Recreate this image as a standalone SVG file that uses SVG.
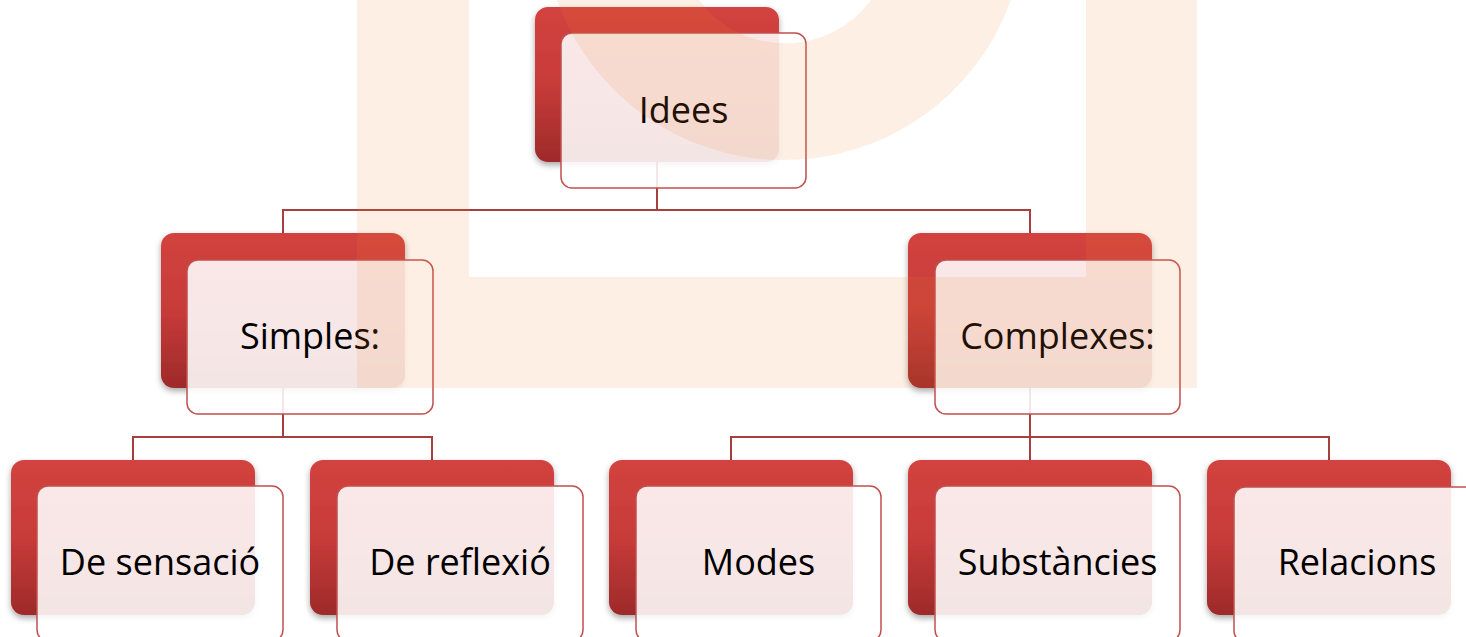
<svg xmlns="http://www.w3.org/2000/svg" width="1466" height="637" viewBox="0 0 1466 637">
<defs>
<linearGradient id="darkGrad" x1="0" y1="0" x2="0" y2="1">
<stop offset="0" stop-color="#D2433F"/>
<stop offset="0.5" stop-color="#C73B39"/>
<stop offset="1" stop-color="#9E2A2A"/>
</linearGradient>
<filter id="shadow" x="-10%" y="-10%" width="120%" height="130%">
<feDropShadow dx="0" dy="3" stdDeviation="3" flood-color="#000" flood-opacity="0.35"/>
</filter>
</defs>
<style>
.dark{fill:url(#darkGrad);filter:url(#shadow)}
.light{fill:#FFFFFF;fill-opacity:0.88;stroke:#C0504D;stroke-width:1.5}
.lbl{font-family:"Open Sans","Noto Sans","Liberation Sans",sans-serif;font-size:36px;fill:#000;text-anchor:middle}
.conn{fill:none;stroke:#A63F3D;stroke-width:2}
.wm{fill:#EE8530;fill-opacity:0.13}
</style>
<rect x="0" y="0" width="1466" height="637" fill="#FFFFFF"/>
<g id="connectors">
<path class="conn" d="M657 162 V210 M283 233 V210 H1030 V233"/>
<path class="conn" d="M283 388 V437 M133 460 V437 H432 V460"/>
<path class="conn" d="M1030 388 V437 M731 460 V437 H1329 V460 M1030 437 V460"/>
</g>
<g id="node-idees">
<rect class="dark" x="535" y="7" width="244" height="155" rx="13"/>
<rect class="light" x="561" y="33" width="245" height="155" rx="11"/>
<text class="lbl" x="683.5" y="122.5">Idees</text>
</g>
<g id="node-simples">
<rect class="dark" x="161" y="233" width="244" height="155" rx="13"/>
<rect class="light" x="187" y="260" width="246" height="154" rx="11"/>
<text class="lbl" x="310" y="349">Simples:</text>
</g>
<g id="node-complexes">
<rect class="dark" x="908" y="233" width="244" height="155" rx="13"/>
<rect class="light" x="935" y="260" width="245" height="154" rx="11"/>
<text class="lbl" x="1057.5" y="349">Complexes:</text>
</g>
<g id="node-sensacio">
<rect class="dark" x="11" y="460" width="244" height="155" rx="13"/>
<rect class="light" x="37" y="486" width="246" height="155" rx="11"/>
<text class="lbl" x="160" y="575">De sensació</text>
</g>
<g id="node-reflexio">
<rect class="dark" x="310" y="460" width="244" height="155" rx="13"/>
<rect class="light" x="337" y="486" width="246" height="155" rx="11"/>
<text class="lbl" x="460" y="575">De reflexió</text>
</g>
<g id="node-modes">
<rect class="dark" x="609" y="460" width="244" height="155" rx="13"/>
<rect class="light" x="636" y="486" width="245" height="155" rx="11"/>
<text class="lbl" x="758.5" y="575">Modes</text>
</g>
<g id="node-substancies">
<rect class="dark" x="908" y="460" width="244" height="155" rx="13"/>
<rect class="light" x="935" y="486" width="245" height="155" rx="11"/>
<text class="lbl" x="1057.5" y="575">Substàncies</text>
</g>
<g id="node-relacions">
<rect class="dark" x="1207" y="460" width="244" height="155" rx="13"/>
<rect class="light" x="1234" y="487" width="246" height="155" rx="11"/>
<text class="lbl" x="1357" y="575">Relacions</text>
</g>
<g id="watermark">
<path class="wm" d="M357 0 H469 V277 H1086 V0 H1197 V388 H357 Z"/>
<path class="wm" fill-rule="evenodd" d="M557 0 A241 241 0 0 0 1011 0 Z M699 0 A107 107 0 0 0 871 0 Z"/>
</g>
</svg>
